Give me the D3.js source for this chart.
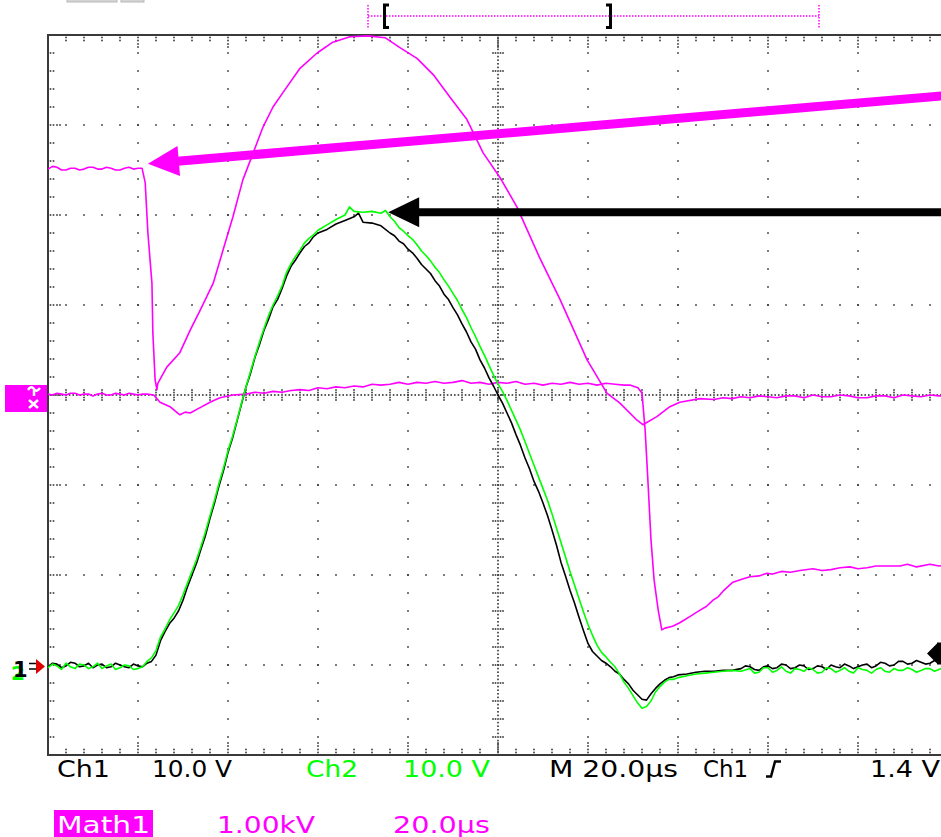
<!DOCTYPE html>
<html>
<head>
<meta charset="utf-8">
<script src="https://cdn.jsdelivr.net/npm/d3@7"></script>
<style>
  html, body { margin: 0; padding: 0; background: #fff; }
  svg { display: block; }
  .readout { font-family: 'DejaVu Sans', sans-serif; font-stretch: condensed; font-size: 23px; }
</style>
</head>
<body>
<svg id="scope" width="941" height="837"></svg>
<script>
// Screen spans 10 divisions at 20.0 µs/div, time counted from the left edge
const timeRange = [0, 200]
// Ch1 / Ch2 at 10.0 V/div, ground marker one division above the bottom
const chRange = [-10, 70]
// Math1 at 1.00 kV/div, ground on the centre line
const mathRange = [-4, 4]
const triggerLevel = 1.4

// [time µs, volts]
const ch1 = [
  [0, -0.2], [1, 0.2], [2, 0.1], [3, -0.3], [4, -0.1], [5, 0.3], [6, 0.2], [7, -0.2], [8, -0.1], [9, 0.2], [10, -0.3], [11, 0.0],
  [12, 0.1], [13, -0.3], [14, -0.2], [15, 0.2], [16, 0.0], [17, -0.2], [18, -0.3], [19, 0.1], [20, -0.1], [21, -0.2],
  [22, 0.2], [23, 0.4], [24, 1.1], [25, 2.7], [26, 3.7], [27, 4.6], [28, 5.2], [29, 6.0], [30, 7.2], [31, 8.7], [32, 10.0], [33, 11.3],
  [34, 12.9], [35, 14.4], [36, 16.3], [37, 18.0], [38, 19.9], [39, 21.6], [40, 23.6], [41, 25.2], [42, 27.1], [43, 29.0], [44, 30.9],
  [45, 32.4], [46, 34.2], [47, 35.6], [48, 37.2], [49, 38.4], [50, 39.8], [51, 40.6], [52, 41.8], [53, 43.2], [54, 44.3], [55, 45.0],
  [56, 45.8], [57, 46.5], [58, 46.9], [59, 47.6], [60, 48.0], [62, 48.4], [64, 49.0], [66, 49.4], [68, 49.8], [69, 50.2], [70, 49.2],
  [72, 49.1], [74, 48.8], [76, 48.0], [77, 47.7], [78, 47.1], [79, 46.8], [80, 46.2], [81, 45.8], [82, 45.2], [83, 44.5], [84, 44.0],
  [85, 43.5], [86, 42.7], [87, 42.1], [88, 41.2], [89, 40.6], [90, 39.7], [91, 38.9], [92, 37.9], [93, 37.0], [94, 35.9], [95, 35.1],
  [96, 33.9], [97, 33.0], [98, 31.9], [99, 31.0], [100, 30.0], [101, 29.1], [102, 28.0], [103, 26.9], [104, 25.6], [105, 24.4],
  [106, 23.0], [107, 21.8], [108, 20.4], [109, 19.3], [110, 18.0], [111, 16.6], [112, 15.0], [113, 13.3], [114, 11.4], [115, 9.9],
  [116, 8.3], [117, 6.9], [118, 5.3], [119, 3.8], [120, 2.4], [121, 1.5], [122, 1.0], [123, 0.5], [124, 0.2], [125, -0.2], [126, -0.7],
  [127, -1.0], [128, -1.6], [129, -2.1], [130, -2.8], [131, -3.3], [132, -3.8], [133, -3.9], [134, -3.2], [135, -2.6], [136, -2.1],
  [137, -1.7], [138, -1.4], [139, -1.3], [140, -1.1], [142, -1.0], [144, -0.8], [146, -0.7], [148, -0.7], [150, -0.6], [152, -0.6],
  [154, -0.4], [155, -0.1], [156, -0.2], [157, -0.5], [158, -0.6], [159, -0.2], [160, -0.1], [161, -0.4], [162, -0.3], [163, 0.1],
  [164, 0.0], [165, -0.4], [166, -0.3], [167, 0.0], [168, -0.1], [169, -0.5], [170, -0.4], [171, -0.1], [172, -0.2], [173, -0.5],
  [174, 0.0], [175, -0.2], [176, -0.3], [177, 0.1], [178, -0.1], [179, -0.4], [180, -0.2], [181, 0.0], [182, 0.1], [183, -0.3],
  [184, -0.1], [185, 0.3], [186, 0.2], [187, -0.1], [188, 0.0], [189, 0.4], [190, 0.4], [191, 0.1], [192, 0.2], [193, 0.5], [194, 0.3],
  [195, 0.1], [196, 0.2], [197, 0.5], [198, 0.4], [199, 0.2], [200, 0.3]
]

const ch2 = [
  [0, -0.3], [1, 0.1], [2, -0.1], [3, -0.5], [4, 0.2], [5, -0.2], [6, -0.4], [7, 0.1], [8, 0.0], [9, -0.4], [10, -0.2], [11, 0.2],
  [12, -0.4], [13, -0.1], [14, 0.1], [15, -0.5], [16, -0.3], [17, 0.0], [18, -0.1], [19, -0.5], [20, -0.4], [21, -0.2],
  [22, 0.4], [23, 0.8], [24, 1.6], [25, 3.1], [26, 4.0], [27, 5.0], [28, 5.8], [29, 6.6], [30, 7.8], [31, 9.1], [32, 10.4], [33, 11.7],
  [34, 13.2], [35, 14.8], [36, 16.6], [37, 18.3], [38, 20.2], [39, 21.9], [40, 23.8], [41, 25.4], [42, 27.2], [43, 29.1], [44, 30.9],
  [45, 32.6], [46, 34.3], [47, 35.9], [48, 37.4], [49, 38.8], [50, 40.0], [51, 41.0], [52, 42.1], [53, 43.6], [54, 44.6], [55, 45.4],
  [56, 46.1], [57, 46.9], [58, 47.4], [59, 47.8], [60, 48.3], [62, 48.9], [64, 49.5], [66, 50.0], [67, 50.9], [68, 50.4], [70, 50.3],
  [72, 50.4], [74, 50.2], [75, 50.5], [76, 49.8], [77, 49.3], [78, 48.6], [79, 48.2], [80, 47.7], [81, 47.3], [82, 46.7], [83, 46.0],
  [84, 45.5], [85, 44.9], [86, 44.2], [87, 43.6], [88, 42.8], [89, 42.1], [90, 41.3], [91, 40.5], [92, 39.5], [93, 38.6], [94, 37.5],
  [95, 36.5], [96, 35.4], [97, 34.4], [98, 33.3], [99, 32.2], [100, 31.2], [101, 30.4], [102, 29.4], [103, 28.3], [104, 27.2],
  [105, 26.1], [106, 24.8], [107, 23.5], [108, 22.2], [109, 20.9], [110, 19.6], [111, 18.3], [112, 16.8], [113, 15.2], [114, 13.6],
  [115, 12.0], [116, 10.4], [117, 8.9], [118, 7.4], [119, 5.9], [120, 4.5], [121, 3.3], [122, 2.2], [123, 1.4], [124, 0.9], [125, 0.3],
  [126, -0.2], [127, -1.0], [128, -1.9], [129, -2.6], [130, -3.4], [131, -4.2], [132, -4.8], [133, -4.6], [134, -4.0], [135, -3.0],
  [136, -2.4], [137, -1.9], [138, -1.6], [139, -1.6], [140, -1.4], [142, -1.2], [144, -1.0], [146, -0.9], [148, -0.8], [150, -0.7],
  [152, -0.6], [154, -0.7], [156, -0.4], [157, -0.9], [158, -0.8], [159, -0.3], [160, -0.3], [161, -0.8], [162, -0.6], [163, -0.2],
  [164, -0.7], [165, -0.9], [166, -0.4], [167, -0.5], [168, -0.7], [169, -0.3], [170, -0.5], [171, -0.9], [172, -0.8], [173, -0.3],
  [174, -0.4], [175, -0.8], [176, -0.6], [177, -0.3], [178, -0.7], [179, -0.9], [180, -0.3], [181, -0.5], [182, -0.6], [183, -0.9],
  [184, -0.5], [185, -0.3], [186, -0.7], [187, -0.8], [188, -0.4], [189, -0.6], [190, -0.6], [191, -0.3], [192, -0.5], [193, -0.8],
  [194, -0.6], [195, -0.4], [196, -0.4], [197, -0.7], [198, -0.5], [199, -0.3], [200, -0.5]
]

// [time µs, kV] the trace that steps down and then arcs over the top of the screen
const mathArc = [
  [0, 2.51], [1, 2.54], [2, 2.53], [3, 2.50], [4, 2.50], [5, 2.52], [6, 2.52], [7, 2.50], [8, 2.51], [9, 2.53], [10, 2.53],
  [11, 2.51], [12, 2.51], [13, 2.53], [14, 2.52], [15, 2.50], [16, 2.50], [17, 2.52], [18, 2.53], [19, 2.51], [20, 2.52],
  [20.9, 2.52], [21.6, 2.36], [22.2, 1.80], [23.1, 1.24], [23.3, 0.69], [23.8, 0.17], [24.2, 0.06], [24.4, 0.13], [26.4, 0.31],
  [29.3, 0.47], [31.6, 0.72], [33.8, 0.94], [36.7, 1.24], [38.9, 1.61], [41.1, 1.98], [43.3, 2.39], [45.6, 2.69], [47.8, 2.98],
  [50.0, 3.20], [52.2, 3.36], [56.0, 3.63], [59.8, 3.80], [63.3, 3.92], [67.1, 3.98], [71.1, 3.99], [74.9, 3.97], [78.2, 3.86],
  [82.0, 3.74], [85.6, 3.56], [89.3, 3.31], [93.1, 3.06], [96.7, 2.69], [100.4, 2.42], [104.2, 2.09], [109.3, 1.52], [113.8, 1.06],
  [119.8, 0.39], [124.2, 0.02], [127.1, -0.09], [130.9, -0.28], [132.2, -0.33], [135.3, -0.24], [138.2, -0.13], [140.4, -0.08],
  [144.9, -0.04], [148, -0.05], [150, -0.03], [152, -0.04], [154, -0.02], [156, -0.03], [158, -0.01], [160, -0.02], [162, -0.03],
  [164, -0.01], [166, -0.01], [168, -0.03], [170, 0.00], [172, -0.02], [174, -0.02], [176, 0.00], [178, -0.01], [180, -0.03],
  [182, -0.03], [184, -0.01], [186, -0.01], [188, -0.03], [190, 0.00], [192, -0.01], [194, -0.02], [196, 0.00], [198, -0.01],
  [200, -0.01]
]

// [time µs, kV] the trace that sits near zero and steps down late
const mathStep = [
  [0, 0.01], [1, 0.00], [2, 0.02], [3, 0.01], [4, 0.00], [5, 0.02], [6, 0.02], [7, 0.00], [8, 0.01], [9, 0.01], [10, -0.01],
  [11, 0.01], [12, 0.02], [13, 0.00], [14, 0.00], [15, 0.02], [16, 0.01], [17, 0.00], [18, 0.02], [19, 0.01], [20, 0.00], [21, 0.01],
  [22, 0.01], [23.5, 0.00], [24.9, -0.08], [27.1, -0.13], [29.3, -0.22], [30.5, -0.19], [31.6, -0.20], [33.8, -0.14], [36, -0.08],
  [38.2, -0.03], [41.1, 0.00], [44, 0.01], [46, 0.03], [48, 0.02], [50, 0.04], [52, 0.03], [54, 0.05], [56, 0.06], [58, 0.05],
  [60, 0.08], [62, 0.07], [64, 0.09], [66, 0.08], [68, 0.10], [70, 0.09], [72, 0.12], [74, 0.11], [76, 0.12], [78, 0.14], [80, 0.12],
  [82, 0.14], [84, 0.13], [86, 0.15], [88, 0.13], [90, 0.14], [92, 0.16], [94, 0.13], [96, 0.14], [98, 0.12], [100, 0.14],
  [102, 0.13], [104, 0.15], [106, 0.12], [108, 0.13], [110, 0.11], [112, 0.13], [114, 0.12], [116, 0.14], [118, 0.12], [120, 0.13],
  [122, 0.11], [124, 0.13], [126, 0.12], [128, 0.11], [129.3, 0.11], [131.1, 0.08], [132, 0.02], [132.7, -0.39], [133.3, -0.94],
  [134, -1.61], [134.7, -2.06], [135.6, -2.39], [136.4, -2.61], [137.1, -2.59], [138.8, -2.57], [140.4, -2.53], [142.7, -2.46],
  [144.9, -2.39], [146.3, -2.35], [147.8, -2.28], [149, -2.24], [150.2, -2.17], [152.2, -2.08], [154, -2.05], [156, -2.02],
  [158, -2.01], [159.8, -1.98], [161, -1.99], [163, -1.96], [165, -1.97], [167.1, -1.95], [170, -1.93], [172, -1.95], [174, -1.94],
  [176, -1.92], [178.2, -1.91], [180, -1.93], [182, -1.92], [184, -1.90], [186, -1.90], [189.3, -1.90], [191, -1.88], [193, -1.91],
  [196, -1.88], [198, -1.90], [200, -1.89]
]

// annotation arrows: [tail, tip]
const mathArrow = [[200, 3.33], [22.2, 2.57]]
const chArrow = [[200, 50.3], [75.6, 50.3]]

const readoutTop = ['Ch1', '10.0 V', 'Ch2', '10.0 V', 'M 20.0µs', 'Ch1', '1.4 V']
const readoutBottom = ['Math1', '1.00kV', '20.0µs']

const MAGENTA = '#ff00ff'
const GREEN = '#00ff00'

const svg = d3.select('#scope')

const xDiv = d3.scaleLinear().domain([0, 10]).range([48, 948])
const yDiv = d3.scaleLinear().domain([0, 8]).range([35, 755])
const x = d3.scaleLinear().domain(timeRange).range(xDiv.range())
const yCh = d3.scaleLinear().domain(chRange).range([755, 35])
const yMath = d3.scaleLinear().domain(mathRange).range([755, 35])

build()

/**
 *
 */
function build () {
  drawTopBar()
  drawGraticule()
  drawTraces()
  drawArrow(mathArrow, yMath, MAGENTA, 9)
  drawArrow(chArrow, yCh, '#000', 8)
  drawMarkers()
  drawReadout()
}

/**
 * @returns {number[][]} The graticule dots in screen coordinates
 */
function graticuleDots () {
  const dots = []
  const minorX = d3.range(0, 10.001, 0.2)
  const minorY = d3.range(0, 8.001, 0.2)

  d3.range(1, 10).filter(k => k !== 5).forEach(k => minorY.forEach(j => dots.push([xDiv(k), yDiv(j)])))
  d3.range(1, 8).filter(k => k !== 4).forEach(k => minorX.forEach(i => dots.push([xDiv(i), yDiv(k)])))

  // centre lines are dense with small cross ticks
  d3.range(0, 8.001, 0.04).forEach(j => dots.push([xDiv(5), yDiv(j)]))
  d3.range(0, 10.001, 0.04).forEach(i => dots.push([xDiv(i), yDiv(4)]))
  minorY.forEach(j => [-5, -2.5, 2.5, 5].forEach(d => dots.push([xDiv(5) + d, yDiv(j)])))
  minorX.forEach(i => [-5, -2.5, 2.5, 5].forEach(d => dots.push([xDiv(i), yDiv(4) + d])))

  // edge ticks
  minorX.forEach((i, n) => {
    const offs = n % 5 === 0 ? [2.5, 5.5, 9, 12] : [2.5, 5.5]
    offs.forEach(o => {
      dots.push([xDiv(i), yDiv(0) + o])
      dots.push([xDiv(i), yDiv(8) - o])
    })
  })
  minorY.forEach((j, n) => {
    const offs = n % 5 === 0 ? [2.5, 5.5, 9, 12] : [2.5, 5.5]
    offs.forEach(o => dots.push([xDiv(0) + o, yDiv(j)]))
  })
  return dots
}

/**
 *
 */
function drawGraticule () {
  svg.append('g')
    .attr('class', 'graticule')
    .selectAll('rect')
    .data(graticuleDots())
    .join('rect')
    .attr('x', d => d[0] - 0.8)
    .attr('y', d => d[1] - 0.8)
    .attr('width', 1.6)
    .attr('height', 1.6)
    .attr('fill', '#333')

  const frame = svg.append('g').attr('class', 'frame')
    .attr('stroke', '#3a3a3a')
    .attr('stroke-width', 2)
  frame.append('line')
    .attr('x1', xDiv(0)).attr('x2', xDiv(0))
    .attr('y1', yDiv(0) - 1).attr('y2', yDiv(8) + 1)
  frame.append('line')
    .attr('x1', xDiv(0)).attr('x2', xDiv(10))
    .attr('y1', yDiv(0)).attr('y2', yDiv(0))
  frame.append('line')
    .attr('x1', xDiv(0)).attr('x2', xDiv(10))
    .attr('y1', yDiv(8)).attr('y2', yDiv(8))
}

/**
 *
 */
function drawTopBar () {
  const g = svg.append('g').attr('class', 'record-bar')

  // grey tabs cut off by the top edge
  g.selectAll('rect')
    .data([[67, 50], [121, 23]])
    .join('rect')
    .attr('x', d => d[0])
    .attr('y', -3)
    .attr('width', d => d[1])
    .attr('height', 5)
    .attr('fill', '#d4d4d4')
    .attr('stroke', '#b8b8b8')

  g.append('line')
    .attr('x1', 368).attr('x2', 819)
    .attr('y1', 16).attr('y2', 16)
    .attr('stroke', MAGENTA)
    .attr('stroke-width', 1.5)
    .attr('stroke-dasharray', '1.5 1.5')
  ;[368, 819].forEach(px => {
    g.append('line')
      .attr('x1', px).attr('x2', px)
      .attr('y1', 5).attr('y2', 28)
      .attr('stroke', MAGENTA)
      .attr('stroke-width', 1.5)
      .attr('stroke-dasharray', '1.5 1.5')
  })
  g.append('path')
    .attr('d', 'M389,5 H384.5 V27.5 H389')
    .attr('fill', 'none')
    .attr('stroke', '#000')
    .attr('stroke-width', 3)
  g.append('path')
    .attr('d', 'M606,5 H610.5 V27.5 H606')
    .attr('fill', 'none')
    .attr('stroke', '#000')
    .attr('stroke-width', 3)
}

/**
 *
 */
function drawTraces () {
  const g = svg.append('g').attr('class', 'traces')
    .attr('fill', 'none')
    .attr('stroke-width', 1.6)
    .attr('stroke-linejoin', 'round')

  const chLine = d3.line().x(d => x(d[0])).y(d => yCh(d[1]))
  const mathLine = d3.line().x(d => x(d[0])).y(d => yMath(d[1]))

  g.append('path').datum(mathStep).attr('d', mathLine).attr('stroke', MAGENTA)
  g.append('path').datum(mathArc).attr('d', mathLine).attr('stroke', MAGENTA)
  g.append('path').datum(ch1).attr('d', chLine).attr('stroke', '#000')
  g.append('path').datum(ch2).attr('d', chLine).attr('stroke', GREEN)
}

/**
 * @param {number[][]} arrow The tail and tip of the arrow in data units
 * @param {Function} yScale The vertical scale of the channel it points at
 * @param {string} color The arrow colour
 * @param {number} width The shaft width
 */
function drawArrow (arrow, yScale, color, width) {
  const tail = [x(arrow[0][0]), yScale(arrow[0][1])]
  const tip = [x(arrow[1][0]), yScale(arrow[1][1])]
  const len = Math.hypot(tail[0] - tip[0], tail[1] - tip[1])
  const u = [(tail[0] - tip[0]) / len, (tail[1] - tip[1]) / len]
  const n = [-u[1], u[0]]
  const headLen = 31
  const headHalf = 15
  const back = [tip[0] + u[0] * headLen, tip[1] + u[1] * headLen]

  svg.append('line')
    .attr('x1', tip[0] + u[0] * (headLen - 4)).attr('y1', tip[1] + u[1] * (headLen - 4))
    .attr('x2', tail[0]).attr('y2', tail[1])
    .attr('stroke', color)
    .attr('stroke-width', width)
  svg.append('path')
    .attr('d', d3.line()([
      tip,
      [back[0] + n[0] * headHalf, back[1] + n[1] * headHalf],
      [back[0] - n[0] * headHalf, back[1] - n[1] * headHalf]
    ]) + 'Z')
    .attr('fill', color)
}

/**
 *
 */
function drawMarkers () {
  // Math1 ground marker
  const ym = yMath(0)
  svg.append('rect')
    .attr('x', 5).attr('y', ym - 10)
    .attr('width', 42).attr('height', 27)
    .attr('fill', MAGENTA)
  svg.append('path')
    .attr('d', `M28,${ym - 5} q3,-5 6,-1 q2,4 6,-1 M34,${ym - 5} v6 M29,${ym + 5} l9,8 M38,${ym + 5} l-9,8`)
    .attr('fill', 'none')
    .attr('stroke', '#fff')
    .attr('stroke-width', 2.5)

  // Ch1 / Ch2 ground marker, the Ch2 digit hides behind the Ch1 digit
  const yc = yCh(0)
  svg.append('text')
    .attr('x', 11).attr('y', yc + 15)
    .attr('font-family', 'DejaVu Sans, sans-serif')
    .attr('font-weight', 'bold')
    .attr('font-size', 20)
    .attr('fill', GREEN)
    .text('2')
  svg.append('text')
    .attr('x', 13).attr('y', yc + 12)
    .attr('font-family', 'DejaVu Sans, sans-serif')
    .attr('font-weight', 'bold')
    .attr('font-size', 21)
    .attr('fill', '#000')
    .text('1')
  svg.append('path')
    .attr('d', `M29,${yc - 1.5} H38 M29,${yc + 4} H38`)
    .attr('stroke', '#000')
    .attr('stroke-width', 1.5)
  svg.append('path')
    .attr('d', `M36,${yc - 6} L45,${yc + 1.5} L36,${yc + 9} Z`)
    .attr('fill', '#e00000')

  // trigger level marker on the right edge
  const yt = yCh(triggerLevel)
  svg.append('path')
    .attr('d', `M927,${yt + 1} L937,${yt - 9} L937,${yt + 11} Z M937,${yt - 10} h4 v22 h-4 Z`)
    .attr('fill', '#000')
}

/**
 *
 */
function drawReadout () {
  const top = svg.append('g').attr('class', 'readout')
  const topLayout = [
    { x: 57, w: 53, c: '#000' },
    { x: 152, w: 80, c: '#000' },
    { x: 306, w: 52, c: GREEN },
    { x: 403, w: 87, c: GREEN },
    { x: 549, w: 129, c: '#000' },
    { x: 703, w: 45, c: '#000' },
    { x: 870, w: 70, c: '#000' }
  ]
  top.selectAll('text')
    .data(readoutTop)
    .join('text')
    .attr('x', (d, i) => topLayout[i].x)
    .attr('y', 777)
    .attr('textLength', (d, i) => topLayout[i].w)
    .attr('lengthAdjust', 'spacingAndGlyphs')
    .attr('fill', (d, i) => topLayout[i].c)
    .text(d => d)

  // rising-edge trigger slope symbol
  top.append('path')
    .attr('d', 'M766,776.5 H771 L775,761.5 H781')
    .attr('fill', 'none')
    .attr('stroke', '#000')
    .attr('stroke-width', 2.5)

  const bottom = svg.append('g').attr('class', 'readout')
  bottom.append('rect')
    .attr('x', 54).attr('y', 810)
    .attr('width', 99).attr('height', 27)
    .attr('fill', MAGENTA)
  const bottomLayout = [
    { x: 57, w: 93, c: '#fff' },
    { x: 217, w: 98, c: MAGENTA },
    { x: 393, w: 97, c: MAGENTA }
  ]
  bottom.selectAll('text')
    .data(readoutBottom)
    .join('text')
    .attr('x', (d, i) => bottomLayout[i].x)
    .attr('y', 833)
    .attr('textLength', (d, i) => bottomLayout[i].w)
    .attr('lengthAdjust', 'spacingAndGlyphs')
    .attr('fill', (d, i) => bottomLayout[i].c)
    .text(d => d)
}
</script>
</body>
</html>
